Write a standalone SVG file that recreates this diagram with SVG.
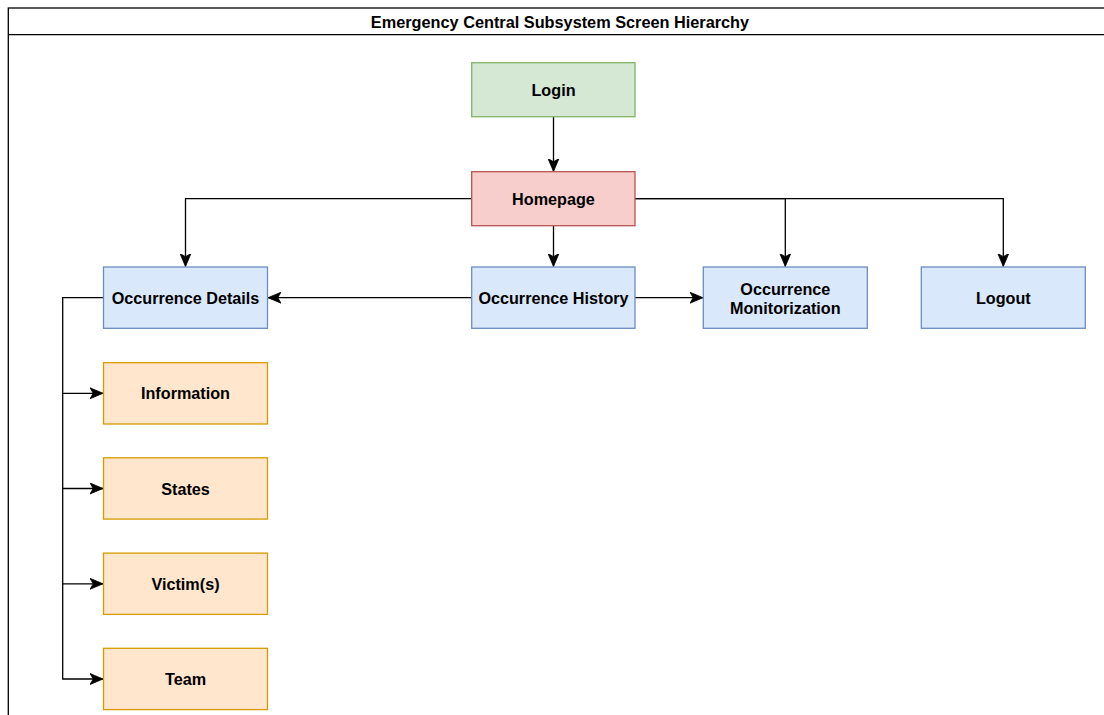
<svg xmlns="http://www.w3.org/2000/svg" width="1104" height="715" viewBox="0 0 1104 715">
  <style>
    .frame { fill: none; stroke: #000; stroke-width: 1.3; }
    .lbl { font-family: "Liberation Sans", Arial, sans-serif; font-weight: bold; font-size: 16.2px; fill: #000; text-anchor: middle; dominant-baseline: central; }
    .title { font-size: 16.3px; }
    .green { fill: #d5e8d4; stroke: #82b366; stroke-width: 1.3; }
    .red { fill: #f8cecc; stroke: #b85450; stroke-width: 1.3; }
    .blue { fill: #dae8fc; stroke: #6c8ebf; stroke-width: 1.3; }
    .orange { fill: #ffe6cc; stroke: #d79b00; stroke-width: 1.3; }
    .edge { fill: none; stroke: #000; stroke-width: 1.3; marker-end: url(#arrow); }
  </style>
  <defs>
    <marker id="arrow" markerUnits="userSpaceOnUse" markerWidth="14" markerHeight="12" viewBox="0 0 14 12" refX="13" refY="6" orient="auto">
      <path d="M0,0.5 L13,6 L0,11.5 L3.2,6 Z" fill="#000" stroke="#000" stroke-width="0.8"/>
    </marker>
  </defs>

  <rect width="1104" height="715" fill="#fff"/>

  <!-- container frame with title bar -->
  <g id="container">
    <rect class="frame" x="8.3" y="8" width="1104" height="720"/>
    <line class="frame" x1="8.3" y1="34.7" x2="1112" y2="34.7"/>
    <text class="lbl title" x="560" y="21.5">Emergency Central Subsystem Screen Hierarchy</text>
  </g>

  <!-- connectors -->
  <g id="connectors">
    <path class="edge" d="M553.5,117 L553.5,171.5"/>
    <path class="edge" d="M471.5,198.7 L185.5,198.7 L185.5,266.5"/>
    <path class="edge" d="M553.5,225.7 L553.5,266.5"/>
    <path class="edge" d="M635,198.7 L785.3,198.7 L785.3,266.5"/>
    <path class="edge" d="M635,198.7 L1003.3,198.7 L1003.3,266.5"/>
    <path class="edge" d="M471.5,297.7 L268,297.7"/>
    <path class="edge" d="M635,297.7 L703,297.7"/>
    <path class="edge" d="M103.5,297.7 L62.7,297.7 L62.7,393.3 L103,393.3"/>
    <path class="edge" d="M62.7,393.3 L62.7,488.5 L103,488.5"/>
    <path class="edge" d="M62.7,488.5 L62.7,583.8 L103,583.8"/>
    <path class="edge" d="M62.7,583.8 L62.7,679 L103,679"/>
  </g>

  <g id="login">
    <rect class="green" x="471.7" y="62.7" width="163.3" height="54"/>
    <text class="lbl" x="553.5" y="89.7">Login</text>
  </g>
  <g id="homepage">
    <rect class="red" x="471.7" y="171.7" width="163.3" height="54"/>
    <text class="lbl" x="553.5" y="198.7">Homepage</text>
  </g>
  <g id="occurrence-details">
    <rect class="blue" x="103.5" y="267" width="164" height="61.3"/>
    <text class="lbl" x="185.5" y="297.7">Occurrence Details</text>
  </g>
  <g id="occurrence-history">
    <rect class="blue" x="471.7" y="267" width="163.3" height="61.3"/>
    <text class="lbl" x="553.5" y="297.7">Occurrence History</text>
  </g>
  <g id="occurrence-monitorization">
    <rect class="blue" x="703.3" y="267" width="164" height="61.3"/>
    <text class="lbl" x="785.3" y="289">Occurrence</text>
    <text class="lbl" x="785.3" y="308">Monitorization</text>
  </g>
  <g id="logout">
    <rect class="blue" x="921.3" y="267" width="164" height="61.3"/>
    <text class="lbl" x="1003.3" y="297.7">Logout</text>
  </g>
  <g id="information">
    <rect class="orange" x="103.5" y="362.7" width="164" height="61.3"/>
    <text class="lbl" x="185.5" y="393.3">Information</text>
  </g>
  <g id="states">
    <rect class="orange" x="103.5" y="457.8" width="164" height="61.3"/>
    <text class="lbl" x="185.5" y="488.5">States</text>
  </g>
  <g id="victims">
    <rect class="orange" x="103.5" y="553.1" width="164" height="61.3"/>
    <text class="lbl" x="185.5" y="583.8">Victim(s)</text>
  </g>
  <g id="team">
    <rect class="orange" x="103.5" y="648.3" width="164" height="61.3"/>
    <text class="lbl" x="185.5" y="679">Team</text>
  </g>
</svg>
